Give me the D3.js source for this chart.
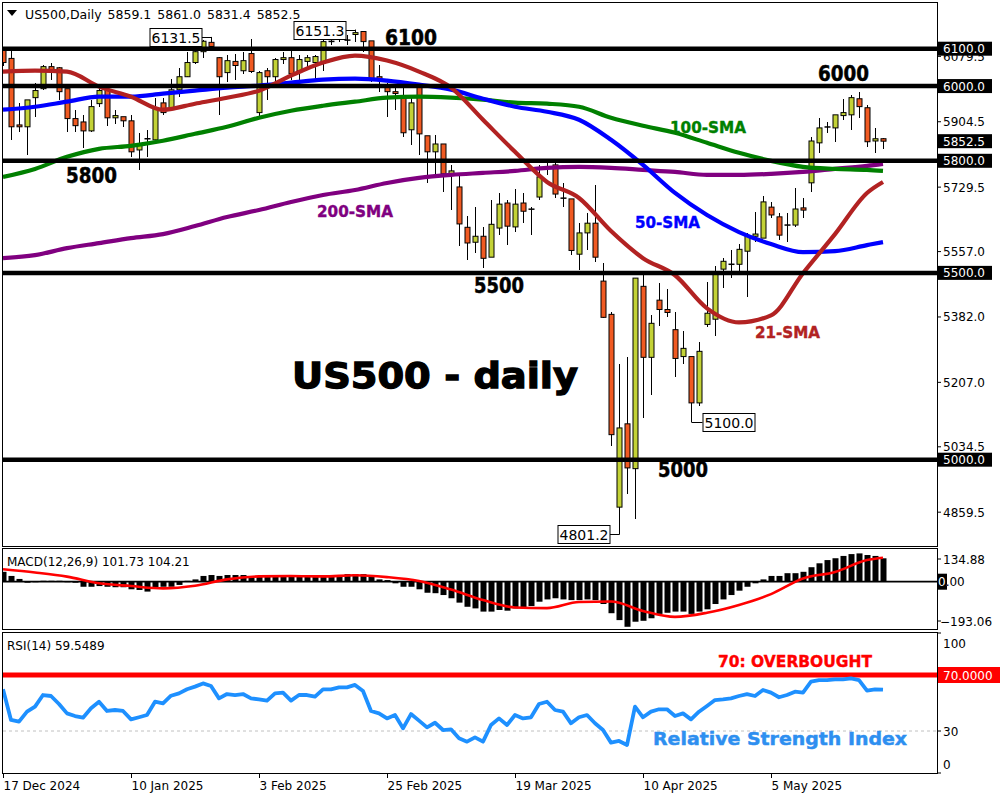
<!DOCTYPE html>
<html><head><meta charset="utf-8">
<script src="https://cdn.jsdelivr.net/npm/d3@7"></script>
<style>body{margin:0;background:#fff}svg{display:block}text{font-family:"DejaVu Sans",sans-serif}</style>
</head><body><svg id="c" width="1000" height="800"></svg>
<script>
// ---------------- DATA ----------------
const openP = [6098,6074,5896,5891,5969,5993,6052,6049,5993,5913,5904,5880,5953,5990,5915,5918,5907,5829,5859,5856,
5955,5937,5990,6025,6063,6092,6117,6076,6036,6066,6041,6087,5929,6041,6025,6071,6076,6041,6066,6063,
6063,6119,6125,6122,6138,6146,6121,6025,6004,5985,5972,5883,5998,5867,5824,5845,5765,5730,5622,5582,
5598,5542,5620,5687,5623,5687,5671,5703,5781,5789,5700,5698,5550,5607,5633,5478,5389,4873,5096,4976,
5464,5274,5427,5402,5348,5276,5276,5152,5362,5376,5510,5523,5523,5558,5598,5593,5676,5650,5628,5628,
5674,5741,5848,5890,5888,5921,5923,5966,5942,5853,5859.1];
const highP = [6103,6098,5955,5963,6009,6057,6063,6052,5993,5937,5923,5963,6004,6001,5937,5918,5923,5875,5883,5968,
5968,6020,6049,6090,6106,6122,6131.5,6079,6082,6087,6092,6127,6039,6049,6074,6090,6098,6084,6084,6084,
6125,6130,6141,6138,6151.3,6146,6121,6057,6009,5998,5998,5972,5998,5867,5870,5845,5789,5762,5652,5676,
5622,5695,5714,5695,5725,5714,5676,5789,5794,5794,5741,5698,5633,5660,5735,5526,5394,5255,5274,5486,
5494,5386,5472,5456,5394,5344,5276,5314,5475,5518,5539,5561,5577,5606,5663,5706,5690,5660,5660,5727,
5700,5864,5915,5904,5923,5966,5977,5985,5950,5888,5861.0];
const lowP = [6055,5856,5878,5816,5918,5990,6017,5963,5878,5878,5835,5878,5945,5894,5899,5891,5810,5776,5810,5856,
5923,5937,5972,6023,6058,6074,6103,5923,6012,6017,6033,6036,5918,5963,6012,6058,6017,6012,6052,6017,
6039,6111,6119,6111,6117,6092,6012,5985,5918,5937,5864,5843,5816,5741,5762,5717,5668,5572,5534,5553,
5512,5542,5601,5574,5609,5633,5601,5695,5762,5700,5676,5547,5507,5561,5528,5378,5037,4801.2,4908,4841,
5112,5172,5359,5381,5220,5257,5100.0,5145,5354,5330,5459,5486,5494,5435,5582,5593,5647,5588,5582,5622,
5647,5717,5821,5875,5851,5910,5883,5915,5837,5821,5831.4];
const closeP = [6063,5891,5891,5963,5988,6052,6044,5985,5913,5894,5880,5945,5988,5915,5921,5907,5824,5845,5859,5942,
5929,5990,6025,6063,6092,6120,6106,6025,6068,6055,6068,6039,6036,6025,6071,6076,6033,6071,6076,6079,
6119,6120,6130,6124,6143,6119,6017,6017,5985,5980,5875,5955,5872,5824,5845,5765,5773,5631,5580,5598,
5539,5630,5684,5625,5684,5665,5670,5757,5784,5711,5700,5560,5607,5633,5542,5381,5067,5085,4978,5486,
5274,5365,5402,5394,5271,5298,5152,5290,5392,5499,5531,5523,5563,5598,5604,5690,5655,5601,5628,5671,
5668,5853,5888,5891,5923,5929,5969,5945,5851,5859,5852.5];

// moving averages sampled every 4 bars (bar index -> value)
const smaIdx = [0,4,8,12,16,20,24,28,32,36,40,44,48,52,56,60,64,68,72,76,80,84,88,92,96,100,104,108,110];
const sma21 = [6038.7,6041.4,6038.7,5998.4,5971.6,5936.7,5952.8,5968.9,5987.7,6028.0,6062.9,6081.7,6068.2,6038.7,5995.8,5909.8,5824.0,5743.4,5700.5,5611.9,5539.4,5493.7,5405.1,5367.6,5386.4,5499.1,5603.8,5713.9,5743.4];
const sma50 = [5936.7,5944.7,5958.2,5971.6,5971.6,5979.6,5987.7,5995.8,6001.1,6009.2,6017.2,6019.9,6014.5,6003.8,5990.4,5966.2,5944.7,5931.3,5909.8,5856.2,5789.0,5713.9,5654.8,5609.2,5577.0,5555.5,5558.2,5574.3,5582.3];
const sma100 = [5756.8,5778.3,5810.5,5832.0,5840.1,5853.5,5872.2,5891.0,5915.2,5934.0,5947.4,5958.2,5968.9,5971.6,5968.9,5963.5,5955.5,5952.8,5944.7,5915.2,5893.7,5874.9,5848.1,5821.3,5799.8,5783.7,5778.3,5775.6,5772.9];
const sma200 = [5539.4,5547.4,5566.2,5579.6,5593.1,5603.8,5625.3,5649.5,5668.2,5689.7,5708.5,5721.9,5740.7,5754.1,5762.2,5767.6,5772.9,5781.0,5783.7,5781.0,5775.6,5770.2,5762.2,5762.2,5764.9,5770.2,5778.3,5786.4,5791.7];

// MACD histogram, one per bar
const macdHist = [43,25,12,0,2,4,4,4,2,-3,
-22,-22,-19,-22,-24,-24,-33,-36,-43,-26,-22,-22,-14,
4,10,25,29,25,29,29,29,
22,22,22,22,22,22,22,22,22,22,22,
29,33,33,33,29,10,7,
-7,-22,-22,-33,-48,-50,-58,-72,-91,-109,-116,-130,-130,-123,
-126,-116,-116,-106,-87,-77,-72,-77,-80,-80,-77,-80,-97,-137,-167,-196,-174,-170,-159,-140,-135,-130,-130,-140,-130,-120,-97,-77,-58,-39,-22,-7,10,25,25,37,37,43,63,80,94,102,112,120,123,116,112,101.73];
// MACD signal, sampled at smaIdx
const macdSignal = [54,40,22,-7,-19,-29,-18,10,23,25,23,28,20,3,-34,-80,-112,-115,-88,-86,-127,-153,-135,-101,-54,14,42,94,104.21];

// RSI(14), one per bar
const rsi = [59.8,37.9,36.7,43.8,47.4,55.7,55,49.3,42.6,40.7,
39.5,46.2,50.9,44.3,45,44.3,38.3,39.8,41.4,50.9,
49.8,55.2,56.9,59.8,61.7,64,62.1,53.3,56.4,55.7,
56.4,53.3,52.6,51.7,56.9,57.4,51.7,55.7,55.7,54.5,
59.8,59.8,61.2,61.2,62.9,58.6,44.3,42.6,39,41.4,
31.9,42.1,37.4,32.6,35.9,30.7,31.2,24.8,22.4,25.5,
22.4,34.3,39,34.3,41.4,39,39.8,49.3,50.9,45,
43.8,35.5,39.8,41.4,35.5,30.7,21.7,22.9,20,47.4,
39.8,43.8,45.5,45.5,40.7,42.6,38.3,43.8,47.9,52.1,
52.6,53.3,55,56.4,55,59.3,57.4,54.1,55.7,58.1,
57.4,65.2,66.4,66.4,66.9,66.9,67.6,66.4,58.8,59.8,59.5489];

const dateIdx = [0,16,32,48,64,80,96];
const dateLabels = ["17 Dec 2024","10 Jan 2025","3 Feb 2025","25 Feb 2025","19 Mar 2025","10 Apr 2025","5 May 2025"];
const priceTicks = [6079.5,5904.5,5729.5,5557.0,5382.0,5207.0,5034.5,4859.5];
const levels = [6100,6000,5800,5500,5000];
const macdTicks = [134.88,0,-193.06];
const rsiTicks = [100,70,30,0];
const annotIdx = [26,44,77,86];
const annotVal = [6131.5,6151.3,4801.2,5100.0];

// ---------------- LAYOUT ----------------
const svg = d3.select("#c");
const PL = 3, PR = 937;
const M = {top:2, bot:546}, MA = {top:548, bot:629.5}, RS = {top:632.5, bot:773};
const x = d3.scaleLinear().domain([0,116.75]).range([PL,PR]);
const yP = d3.scaleLinear().domain([4769,6225]).range([M.bot,M.top]);
const yM = d3.scaleLinear().domain([-210,146.5]).range([630,548]);
const yR = d3.scaleLinear().domain([0,100]).range([773,633]);
const BULL = "#c3d236", BEAR = "#f05a22";

const defs = svg.append("defs");
function clip(id, t, b){ defs.append("clipPath").attr("id",id).append("rect").attr("x",PL).attr("y",t).attr("width",PR-PL).attr("height",b-t); }
clip("cm",M.top,M.bot); clip("cmacd",MA.top,MA.bot); clip("crsi",RS.top,RS.bot);

// ---------- main panel ----------
const gm = svg.append("g").attr("clip-path","url(#cm)");
const bars = d3.range(openP.length);
bars.forEach(i=>{
  const cx = Math.round(x(i))+0.5;
  gm.append("line").attr("x1",cx).attr("x2",cx).attr("y1",yP(highP[i])).attr("y2",yP(lowP[i]))
    .attr("stroke","#000").attr("stroke-width",1).attr("shape-rendering","crispEdges");
  const o=openP[i], c=closeP[i];
  const t=yP(Math.max(o,c)), b=yP(Math.min(o,c));
  if (b-t < 1.5){
    gm.append("line").attr("x1",cx-3).attr("x2",cx+3).attr("y1",(t+b)/2).attr("y2",(t+b)/2)
      .attr("stroke","#000").attr("stroke-width",1.5);
  } else {
    gm.append("rect").attr("x",cx-2.5).attr("y",t).attr("width",5).attr("height",b-t)
      .attr("fill", c>=o?BULL:BEAR).attr("stroke","#000").attr("stroke-width",1);
  }
});
const smaLine = d3.line().x((d,k)=>x(smaIdx[k])).y(d=>yP(d)).curve(d3.curveMonotoneX);
[[sma200,"#800080"],[sma100,"#008000"],[sma50,"#0000ff"],[sma21,"#b22222"]].forEach(([s,col])=>{
  gm.append("path").attr("d",smaLine(s)).attr("fill","none").attr("stroke",col).attr("stroke-width",4.2).attr("stroke-linejoin","round");
});
levels.forEach(v=>{
  gm.append("line").attr("x1",PL).attr("x2",PR).attr("y1",yP(v)).attr("y2",yP(v)).attr("stroke","#000").attr("stroke-width",4.5);
});

// annotation boxes
annotIdx.forEach((i,k)=>{
  const cx = Math.round(x(i))+0.5, yy = yP(annotVal[k]);
  const right = (i===86);
  const bw=52, bh=18;
  const bx = right ? cx+11 : cx-10-bw;
  const yc = Math.round(yy)+0.5;
  svg.append("path").attr("d", right? `M${cx},${yy}V${yc}H${bx}` : `M${bx+bw},${yc}H${cx}V${yy}`)
    .attr("fill","none").attr("stroke","#000").attr("stroke-width",1);
  svg.append("rect").attr("x",bx+0.5).attr("y",yc-bh/2).attr("width",bw).attr("height",bh)
    .attr("fill","#fff").attr("stroke","#000").attr("stroke-width",1);
  svg.append("text").attr("x",bx+bw/2+0.5).attr("y",yc+5).attr("text-anchor","middle")
    .attr("font-size",14).text(annotVal[k].toFixed(1));
});

// level labels
const heavy = (sel)=>sel.attr("font-family","'Liberation Sans',Arial,sans-serif").attr("font-weight","bold")
   .attr("lengthAdjust","spacingAndGlyphs");
const lvlPos = [[385,45,52],[818,80.5,51],[66,183.3,51],[474,293.3,50],[658,477.3,50]];
levels.forEach((v,k)=>{
  heavy(svg.append("text")).attr("x",lvlPos[k][0]).attr("y",lvlPos[k][1]).attr("font-size",20.5)
    .attr("textLength",lvlPos[k][2]).attr("fill","#000").attr("stroke","#000").attr("stroke-width",0.5).text(String(v));
});
heavy(svg.append("text")).attr("x",292).attr("y",388).attr("font-size",36).attr("textLength",286)
  .attr("fill","#000").attr("stroke","#000").attr("stroke-width",1.3).text("US500 - daily");
const smaLab = [["100-SMA","#008000",670,133.3,76],["200-SMA","#800080",317,216.7,76],["50-SMA","#0000ff",635,228,65],["21-SMA","#b22222",755,338,65]];
smaLab.forEach(([t,col,xx,yy,w])=>{
  heavy(svg.append("text")).attr("x",xx).attr("y",yy).attr("font-size",16).attr("textLength",w)
    .attr("fill",col).attr("stroke",col).attr("stroke-width",0.4).text(t);
});

// header
svg.append("path").attr("d","M7,10H17L12,16Z").attr("fill","#000");
svg.append("text").attr("x",25).attr("y",18.5).attr("font-size",12.5).attr("word-spacing",2)
  .text("US500,Daily  5859.1 5861.0 5831.4 5852.5");

// right price axis
priceTicks.forEach(v=>{
  const yy = yP(v);
  svg.append("line").attr("x1",PR).attr("x2",PR+4).attr("y1",yy).attr("y2",yy).attr("stroke","#000");
  svg.append("text").attr("x",943).attr("y",yy+4.5).attr("font-size",12).text(v.toFixed(1));
});
function blackBox(v, txt, fill){
  const yy = yP(v);
  svg.append("rect").attr("x",938).attr("y",yy-7).attr("width",54).attr("height",14).attr("fill",fill||"#000");
  svg.append("text").attr("x",943).attr("y",yy+4.5).attr("font-size",12).attr("fill","#fff").text(txt);
}
levels.forEach(v=>blackBox(v, v.toFixed(1)));
blackBox(closeP[closeP.length-1], closeP[closeP.length-1].toFixed(1));

// ---------- MACD panel ----------
const gmd = svg.append("g").attr("clip-path","url(#cmacd)");
const z0 = yM(0);
gmd.append("line").attr("x1",PL).attr("x2",PR).attr("y1",z0).attr("y2",z0).attr("stroke","#000").attr("stroke-width",1.8);
macdHist.forEach((v,i)=>{
  const cx = Math.round(x(i));
  const y1 = yM(Math.max(v,0)), y2 = yM(Math.min(v,0));
  gmd.append("rect").attr("x",cx-2.5).attr("y",y1).attr("width",6).attr("height",Math.max(1,y2-y1)).attr("fill","#000");
});
const sigLine = d3.line().x((d,k)=>x(smaIdx[k])).y(d=>yM(d)).curve(d3.curveMonotoneX);
gmd.append("path").attr("d",sigLine(macdSignal)).attr("fill","none").attr("stroke","#ff0000").attr("stroke-width",2.6);
svg.append("text").attr("x",7).attr("y",566).attr("font-size",12)
  .text("MACD(12,26,9) "+macdHist[macdHist.length-1].toFixed(2)+" "+macdSignal[macdSignal.length-1].toFixed(2));
macdTicks.forEach(v=>{
  let yy = yM(v);
  yy = Math.max(MA.top+11, Math.min(MA.bot-8.5, yy));
  svg.append("line").attr("x1",PR).attr("x2",PR+4).attr("y1",yy).attr("y2",yy).attr("stroke","#000");
  if (v===0){
    svg.append("rect").attr("x",938).attr("y",yy-8).attr("width",9).attr("height",16).attr("fill","#000");
    defs.append("clipPath").attr("id","zc").append("rect").attr("x",938).attr("y",yy-8).attr("width",9).attr("height",16);
    svg.append("text").attr("x",938).attr("y",yy+4.5).attr("font-size",12).text("0.00");
    svg.append("text").attr("x",938).attr("y",yy+4.5).attr("font-size",12).attr("fill","#fff").attr("clip-path","url(#zc)").text("0.00");
  } else {
    svg.append("text").attr("x",v<0?940:943).attr("y",yy+4.5).attr("font-size",12).text((v<0?"\u2212":"")+Math.abs(v).toFixed(2));
  }
});

// ---------- RSI panel ----------
const gr = svg.append("g").attr("clip-path","url(#crsi)");
gr.append("line").attr("x1",PL).attr("x2",PR).attr("y1",yR(30)).attr("y2",yR(30)).attr("stroke","#c0c0c0").attr("stroke-dasharray","3,3");
gr.append("line").attr("x1",PL).attr("x2",PR).attr("y1",yR(70)).attr("y2",yR(70)).attr("stroke","#ff0000").attr("stroke-width",5);
const rsiLine = d3.line().x((d,i)=>x(i)).y(d=>yR(d));
gr.append("path").attr("d",rsiLine(rsi)).attr("fill","none").attr("stroke","#1e90ff").attr("stroke-width",3.8).attr("stroke-linejoin","round");
svg.append("text").attr("x",7).attr("y",650).attr("font-size",12).text("RSI(14) "+rsi[rsi.length-1].toFixed(4));
rsiTicks.forEach(v=>{
  let yy = yR(v);
  yy = Math.max(RS.top+10.5, Math.min(RS.bot-9, yy));
  svg.append("line").attr("x1",PR).attr("x2",PR+4).attr("y1",yR(v)).attr("y2",yR(v)).attr("stroke","#000");
  if (v===70){
    svg.append("rect").attr("x",938).attr("y",yy-8).attr("width",62).attr("height",16).attr("fill","#ff0000");
    svg.append("text").attr("x",943).attr("y",yy+4.5).attr("font-size",12).attr("fill","#fff").text("70.0000");
  } else {
    svg.append("text").attr("x",943).attr("y",yy+4.5).attr("font-size",12).text(String(v));
  }
});
heavy(svg.append("text")).attr("x",718).attr("y",667).attr("font-size",16).attr("textLength",154)
  .attr("fill","#ff0000").attr("stroke","#ff0000").attr("stroke-width",0.4).text("70: OVERBOUGHT");
heavy(svg.append("text")).attr("x",653).attr("y",745).attr("font-size",18.5).attr("textLength",254)
  .attr("fill","#2e8ff0").attr("stroke","#2e8ff0").attr("stroke-width",0.5).text("Relative Strength Index");

// ---------- frames ----------
[[M.top,M.bot],[MA.top,MA.bot],[RS.top,RS.bot]].forEach(([t,b])=>{
  svg.append("rect").attr("x",PL-0.5).attr("y",t).attr("width",PR-PL+0.5).attr("height",b-t)
    .attr("fill","none").attr("stroke","#000").attr("stroke-width",1).attr("shape-rendering","crispEdges");
});

// x axis
dateIdx.forEach((i,k)=>{
  const xx = Math.round(x(i))+0.5;
  svg.append("line").attr("x1",xx).attr("x2",xx).attr("y1",RS.bot).attr("y2",RS.bot+5).attr("stroke","#000");
  svg.append("text").attr("x",xx).attr("y",790).attr("font-size",12).text(dateLabels[k]);
});
</script></body></html>
